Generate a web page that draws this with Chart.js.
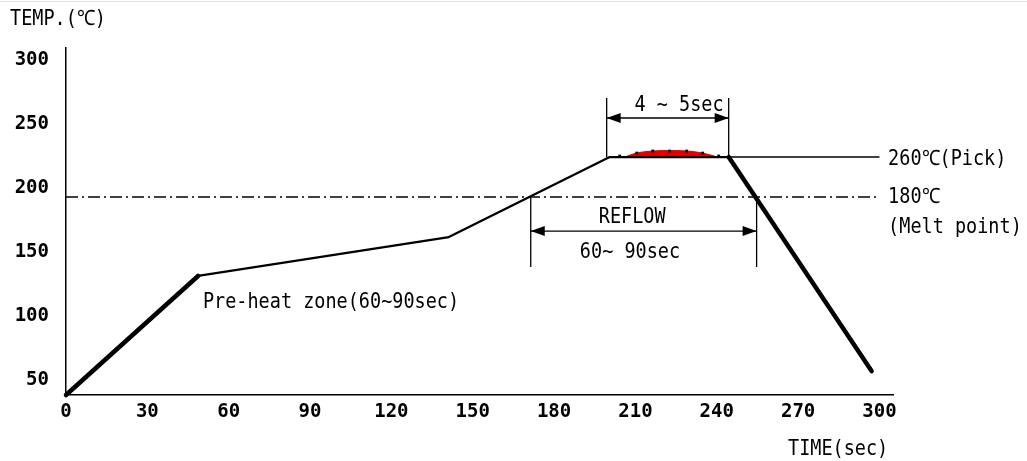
<!DOCTYPE html>
<html>
<head>
<meta charset="utf-8">
<script src="https://cdn.jsdelivr.net/npm/chart.js@4/dist/chart.umd.min.js"></script>
<style>
  html, body { margin: 0; padding: 0; background: #fff; }
  #wrap { position: relative; width: 1027px; height: 461px; }
  #topline { position: absolute; left: 0; top: 1px; width: 1027px; height: 1px; background: #dfe4ee; }
</style>
</head>
<body>
<div id="wrap">
  <div id="topline"></div>
  <canvas id="chart"></canvas>
</div>
<script>
// reflow profile (time in sec, temp in degC)
const timeSec = [0, 48.7, 141.2, 200.5, 244.4, 297.1];
const tempC = [38.3, 131.3, 161.7, 224.2, 224.2, 57.0];

// tick labels
const xTicks = [0, 30, 60, 90, 120, 150, 180, 210, 240, 270, 300];
const yTicks = [50, 100, 150, 200, 250, 300];

// peak level line and melt point line
const peakTime = [244.4, 300];
const peakTemp = [224.2, 224.2];
const meltTime = [0, 300];
const meltTemp = [193, 193];

// red peak area and its dots
const domeTime = [206.0, 210.5, 216.4, 222.6, 228.9, 234.8, 240.3];
const domeTemp = [224.2, 227.3, 228.9, 229.3, 228.9, 227.3, 224.2];
const dotTime = [204.2, 210.5, 216.4, 222.6, 228.9, 234.8, 240.7];
const dotTemp = [225.0, 227.3, 228.9, 228.9, 228.9, 227.3, 225.0];

// dimension markers: 4~5 sec window and reflow window
const peakWin = [199.4, 244.4];
const peakWinTemp = [224.2, 270.3, 254.7];   // bottom, top, arrow level
const reflowWin = [171.4, 254.7];
const reflowWinTemp = [193, 138.3, 166.4];

const pts = (xs, ys) => xs.map((x, i) => ({ x: x, y: ys[i] }));
const vline = (x, y0, y1) => [{ x: x, y: y0 }, { x: x, y: y1 }];

const FONT = "'DejaVu Sans Mono', 'Liberation Mono', monospace";

// text notes, in chart units
const notes = [
  { text: "4 ~ 5sec", x: 226.1, y: 264.8, align: "center" },
  { text: "REFLOW", x: 208.8, y: 177.3, align: "center" },
  { text: "60~ 90sec", x: 208.0, y: 150.0, align: "center" },
  { text: "260℃(Pick)", x: 303.2, y: 221.9, align: "left" },
  { text: "180℃", x: 303.2, y: 192.2, align: "left" },
  { text: "(Melt point)", x: 303.2, y: 168.8, align: "left" },
  { text: "Pre-heat zone(60~90sec)", x: 50.5, y: 110.2, align: "left" }
];

const arrows = [
  { x0: peakWin[0], x1: peakWin[1], y: peakWinTemp[2] },
  { x0: reflowWin[0], x1: reflowWin[1], y: reflowWinTemp[2] }
];

const lineDs = (data, width, extra) => Object.assign({
  data: data, borderColor: "#000", borderWidth: width,
  pointRadius: 0, fill: false, tension: 0, clip: false
}, extra || {});

// draws text a bit taller than wide, like the original bitmap font
function tallText(ctx, text, x, y) {
  ctx.save();
  ctx.translate(x, y);
  ctx.scale(1, 1.14);
  ctx.fillText(text, 0, 0);
  ctx.restore();
}

const notesPlugin = {
  id: "notes",
  afterDatasetsDraw(chart) {
    const ctx = chart.ctx;
    const xs = chart.scales.x, ys = chart.scales.y;
    ctx.save();
    ctx.fillStyle = "#000";
    ctx.font = "18.5px " + FONT;
    ctx.textBaseline = "middle";
    notes.forEach(n => {
      ctx.textAlign = n.align;
      tallText(ctx, n.text, xs.getPixelForValue(n.x), ys.getPixelForValue(n.y));
    });
    // axis captions
    ctx.textAlign = "left";
    tallText(ctx, "TEMP.(℃)", 10, 20);
    tallText(ctx, "TIME(sec)", chart.chartArea.right - 105, 450);

    // arrow heads
    arrows.forEach(a => {
      const px0 = xs.getPixelForValue(a.x0), px1 = xs.getPixelForValue(a.x1);
      const py = ys.getPixelForValue(a.y);
      ctx.beginPath();
      ctx.moveTo(px0, py); ctx.lineTo(px0 + 14, py - 5); ctx.lineTo(px0 + 14, py + 5);
      ctx.closePath(); ctx.fill();
      ctx.beginPath();
      ctx.moveTo(px1, py); ctx.lineTo(px1 - 14, py - 5); ctx.lineTo(px1 - 14, py + 5);
      ctx.closePath(); ctx.fill();
    });
    ctx.restore();
  }
};

new Chart(document.getElementById("chart"), {
  type: "line",
  data: {
    datasets: [
      {
        type: "scatter", data: pts(dotTime, dotTemp), showLine: false,
        pointStyle: "rect", pointRadius: 2, backgroundColor: "#000", borderColor: "#000",
        borderWidth: 0, clip: false
      },
      lineDs(pts(timeSec, tempC), 2.3, {
        borderCapStyle: "round", borderJoinStyle: "round",
        segment: { borderWidth: c => (c.p0DataIndex === 0 || c.p0DataIndex === 4) ? 4.5 : 2.3 }
      }),
      lineDs(pts(domeTime, domeTemp), 1, {
        borderColor: "#e00000", backgroundColor: "#e00000",
        fill: { value: peakTemp[0] }, tension: 0.4
      }),
      lineDs(pts(peakTime, peakTemp), 1.5),
      lineDs(pts(meltTime, meltTemp), 1.3, { borderDash: [12, 4, 2, 4] }),
      lineDs(vline(peakWin[0], peakWinTemp[0], peakWinTemp[1]), 1.3),
      lineDs(vline(peakWin[1], peakWinTemp[0], peakWinTemp[1]), 1.3),
      lineDs(vline(reflowWin[0], reflowWinTemp[0], reflowWinTemp[1]), 1.3),
      lineDs(vline(reflowWin[1], reflowWinTemp[0], reflowWinTemp[1]), 1.3),
      lineDs(pts(peakWin, [peakWinTemp[2], peakWinTemp[2]]), 1.3),
      lineDs(pts(reflowWin, [reflowWinTemp[2], reflowWinTemp[2]]), 1.3)
    ]
  },
  options: {
    responsive: true,
    maintainAspectRatio: false,
    animation: false,
    layout: { padding: { left: 0, top: 48, right: 134, bottom: 0 } },
    plugins: { legend: { display: false }, tooltip: { enabled: false } },
    scales: {
      x: {
        type: "linear", min: 0, max: 305,
        afterBuildTicks: s => { s.ticks = xTicks.map(v => ({ value: v })); },
        afterFit: s => { s.height = 66; },
        grid: { display: false, drawTicks: false },
        border: { display: true, color: "#000", width: 1.5 },
        ticks: { color: "#000", font: { family: FONT, size: 19, weight: "bold" }, padding: 6, maxRotation: 0, autoSkip: false }
      },
      y: {
        type: "linear", min: 38.3, max: 309.4,
        afterBuildTicks: s => { s.ticks = yTicks.map(v => ({ value: v })); },
        afterFit: s => { s.width = 66; },
        grid: { display: false, drawTicks: false },
        border: { display: true, color: "#000", width: 1.5 },
        ticks: { color: "#000", font: { family: FONT, size: 19, weight: "bold" }, padding: 17 }
      }
    }
  },
  plugins: [notesPlugin]
});
</script>
</body>
</html>
